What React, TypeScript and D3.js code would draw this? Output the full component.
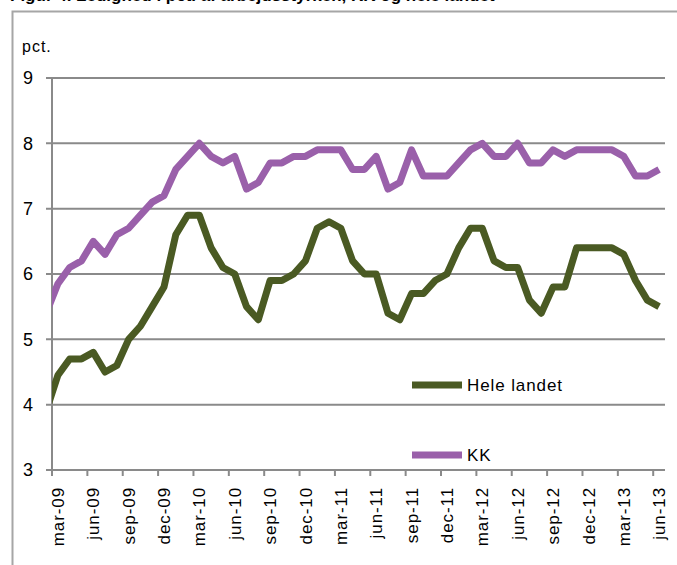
import { useEffect, useRef } from 'react';
import * as d3 from 'd3';

// monthly categories; feb-09 sits just left of the plot and is clipped away
const months = [
  'feb-09', 'mar-09', 'apr-09', 'maj-09', 'jun-09', 'jul-09', 'aug-09', 'sep-09', 'okt-09', 'nov-09', 'dec-09',
  'jan-10', 'feb-10', 'mar-10', 'apr-10', 'maj-10', 'jun-10', 'jul-10', 'aug-10', 'sep-10', 'okt-10', 'nov-10', 'dec-10',
  'jan-11', 'feb-11', 'mar-11', 'apr-11', 'maj-11', 'jun-11', 'jul-11', 'aug-11', 'sep-11', 'okt-11', 'nov-11', 'dec-11',
  'jan-12', 'feb-12', 'mar-12', 'apr-12', 'maj-12', 'jun-12', 'jul-12', 'aug-12', 'sep-12', 'okt-12', 'nov-12', 'dec-12',
  'jan-13', 'feb-13', 'mar-13', 'apr-13', 'maj-13', 'jun-13',
];

const heleLandet = [
  3.9, 4.45, 4.7, 4.7, 4.8, 4.5, 4.6, 5.0, 5.2, 5.5, 5.8,
  6.6, 6.9, 6.9, 6.4, 6.1, 6.0, 5.5, 5.3, 5.9, 5.9, 6.0, 6.2,
  6.7, 6.8, 6.7, 6.2, 6.0, 6.0, 5.4, 5.3, 5.7, 5.7, 5.9, 6.0,
  6.4, 6.7, 6.7, 6.2, 6.1, 6.1, 5.6, 5.4, 5.8, 5.8, 6.4, 6.4,
  6.4, 6.4, 6.3, 5.9, 5.6, 5.5,
];

const kk = [
  5.4, 5.85, 6.1, 6.2, 6.5, 6.3, 6.6, 6.7, 6.9, 7.1, 7.2,
  7.6, 7.8, 8.0, 7.8, 7.7, 7.8, 7.3, 7.4, 7.7, 7.7, 7.8, 7.8,
  7.9, 7.9, 7.9, 7.6, 7.6, 7.8, 7.3, 7.4, 7.9, 7.5, 7.5, 7.5,
  7.7, 7.9, 8.0, 7.8, 7.8, 8.0, 7.7, 7.7, 7.9, 7.8, 7.9, 7.9,
  7.9, 7.9, 7.8, 7.5, 7.5, 7.6,
];

const tickLabels = [
  'mar-09', 'jun-09', 'sep-09', 'dec-09', 'mar-10', 'jun-10', 'sep-10', 'dec-10', 'mar-11',
  'jun-11', 'sep-11', 'dec-11', 'mar-12', 'jun-12', 'sep-12', 'dec-12', 'mar-13', 'jun-13',
];

const yTicks = [3, 4, 5, 6, 7, 8, 9];

const seriesNames = ['Hele landet', 'KK'];
const seriesColors = ['#4a5a23', '#9a60aa'];

export default function App() {
  const svgRef = useRef<SVGSVGElement>(null);

  useEffect(() => {
    if (!svgRef.current) return;
    document.body.style.margin = '0';

    const svg = d3.select(svgRef.current);
    svg.selectAll('*').remove();

    const width = 677;
    const height = 565;
    const plot = { left: 52, right: 665, top: 78, bottom: 470 };
    const font = '"Liberation Sans", Arial, sans-serif';
    const grey = '#8a8a8a';

    // band edges: mar-09 (index 1) starts at the y axis, jun-13 ends at the right edge
    const x = d3.scaleLinear().domain([1, months.length]).range([plot.left, plot.right]);
    const y = d3.scaleLinear().domain([3, 9]).range([plot.bottom, plot.top]);

    // outer frame
    svg.append('rect')
      .attr('x', 12.5).attr('y', 11.5)
      .attr('width', width).attr('height', height)
      .attr('fill', 'none')
      .attr('stroke', '#a6a6a6')
      .attr('stroke-width', 2);

    // title, cut off at the top edge like the source crop
    svg.append('text')
      .attr('x', 10).attr('y', 0.5)
      .attr('font-family', font)
      .attr('font-size', 17)
      .attr('font-weight', 'bold')
      .attr('fill', '#000')
      .text('Figur 4. Ledighed i pct. af arbejdsstyrken, KK og hele landet');

    svg.append('text')
      .attr('x', 22).attr('y', 52)
      .attr('font-family', font)
      .attr('font-size', 16)
      .attr('letter-spacing', 1)
      .text('pct.');

    // gridlines + left ticks
    svg.append('g')
      .selectAll('line')
      .data(yTicks)
      .join('line')
      .attr('x1', plot.left - 6)
      .attr('x2', plot.right)
      .attr('y1', d => y(d))
      .attr('y2', d => y(d))
      .attr('stroke', grey)
      .attr('stroke-width', 2);

    svg.append('g')
      .selectAll('text')
      .data(yTicks)
      .join('text')
      .attr('x', 33)
      .attr('y', d => y(d))
      .attr('dy', '0.36em')
      .attr('text-anchor', 'end')
      .attr('font-family', font)
      .attr('font-size', 18)
      .text(d => d);

    // y axis
    svg.append('line')
      .attr('x1', plot.left).attr('x2', plot.left)
      .attr('y1', plot.top).attr('y2', plot.bottom + 6)
      .attr('stroke', grey)
      .attr('stroke-width', 2);

    // x ticks at the start of each labelled quarter month
    const tickIdx = tickLabels.map(l => months.indexOf(l));
    svg.append('g')
      .selectAll('line')
      .data(tickIdx)
      .join('line')
      .attr('x1', d => x(d)).attr('x2', d => x(d))
      .attr('y1', plot.bottom).attr('y2', plot.bottom + 6)
      .attr('stroke', grey)
      .attr('stroke-width', 2);

    svg.append('g')
      .selectAll('text')
      .data(tickIdx)
      .join('text')
      .attr('transform', d => `translate(${x(d + 0.5)},${plot.bottom + 17}) rotate(-90)`)
      .attr('dy', '0.36em')
      .attr('text-anchor', 'end')
      .attr('font-family', font)
      .attr('font-size', 17)
      .attr('letter-spacing', 0.9)
      .text((d, i) => tickLabels[i]);

    // lines
    svg.append('clipPath')
      .attr('id', 'plot-clip')
      .append('rect')
      .attr('x', plot.left).attr('y', 0)
      .attr('width', plot.right - plot.left + 10)
      .attr('height', plot.bottom);

    const line = d3.line<number>()
      .x((d, i) => x(i + 0.5))
      .y(d => y(d));

    [heleLandet, kk].forEach((values, s) => {
      svg.append('path')
        .datum(values)
        .attr('clip-path', 'url(#plot-clip)')
        .attr('d', line)
        .attr('fill', 'none')
        .attr('stroke', seriesColors[s])
        .attr('stroke-width', 7)
        .attr('stroke-linejoin', 'round');
    });

    // legend
    const legendY = [385, 455];
    const legend = svg.append('g')
      .selectAll('g')
      .data(seriesNames)
      .join('g')
      .attr('transform', (d, i) => `translate(412,${legendY[i]})`);

    legend.append('line')
      .attr('x1', 0).attr('x2', 50)
      .attr('stroke', (d, i) => seriesColors[i])
      .attr('stroke-width', 7);

    legend.append('text')
      .attr('x', 55)
      .attr('dy', '0.36em')
      .attr('font-family', font)
      .attr('font-size', 17)
      .attr('letter-spacing', 0.9)
      .text(d => d);
  }, []);

  return (
    <svg
      ref={svgRef}
      width={677}
      height={565}
      style={{ position: 'absolute', left: 0, top: 0, background: '#fff' }}
    />
  );
}
